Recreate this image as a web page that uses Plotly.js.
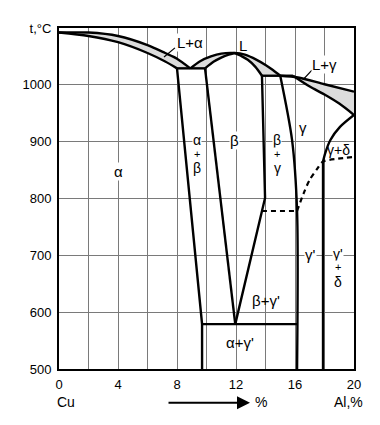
<!DOCTYPE html>
<html><head><meta charset="utf-8">
<script src="https://cdn.plot.ly/plotly-3.0.1.min.js"></script>
<style>html,body{margin:0;padding:0;background:#fff}#chart{width:380px;height:425px}</style>
</head><body><div id="chart"></div>
<script>
// Cu–Al phase diagram: composition (% Al) and temperature (°C)
const alphaLiquidusX = [0, 2, 4, 6, 7.2, 8.0, 8.9];
const alphaLiquidusT = [1092, 1092, 1086, 1070, 1056, 1046, 1029];
const alphaSolidusX = [0, 2, 4, 6, 7.2, 8.0];
const alphaSolidusT = [1092, 1086, 1075, 1056, 1041, 1029];
const eutecticX = [8.0, 9.9];
const eutecticT = [1029, 1029];
const betaLiquidusX = [8.9, 9.6, 10.3, 11.0, 11.9, 12.6, 13.4, 14.0, 14.5, 15.0];
const betaLiquidusT = [1029, 1042, 1050, 1055, 1056, 1053, 1044, 1035, 1026, 1016];
const betaSolidusLeftX = [9.9, 10.5, 11.0, 11.5, 11.9];
const betaSolidusLeftT = [1029, 1041, 1048, 1053, 1056];
const betaSolidusRightX = [11.9, 12.4, 12.8, 13.3, 13.76];
const betaSolidusRightT = [1056, 1050, 1044, 1032, 1016];
const peritecticX = [13.76, 15.86];
const peritecticT = [1016, 1016];
const gammaLiquidusX = [15.0, 16.2, 18.0, 20];
const gammaLiquidusT = [1016, 1013, 1001, 988];
const gammaSolidusX = [15.86, 17.0, 18.0, 19.0, 20];
const gammaSolidusT = [1016, 997, 983, 967, 947];
const alphaSolvusX = [8.0, 9.7, 9.7];
const alphaSolvusT = [1029, 579, 500];
const betaLeftX = [9.9, 11.95];
const betaLeftT = [1029, 579];
const betaRightX = [13.76, 13.97, 11.95];
const betaRightT = [1016, 801, 579];
const gammaLeftX = [15.0, 15.8, 16.14, 16.14];
const gammaLeftT = [1016, 903, 778, 500];
const eutectoidX = [9.7, 16.14];
const eutectoidT = [579, 579];
const gammaSolvusX = [20, 19.05, 18.4, 18.05, 17.9];
const gammaSolvusT = [947, 926, 903, 880, 865];
const deltaBoundaryX = [17.9, 17.9];
const deltaBoundaryT = [865, 500];
const orderDashX = [13.76, 16.14];
const orderDashT = [778, 778];
const orderCurveX = [16.14, 16.6, 17.0, 17.5, 17.9, 18.9, 20];
const orderCurveT = [778, 810, 833, 852, 865, 870, 873];
// axes
const xGrid = [0, 2, 4, 6, 8, 10, 12, 14, 16, 18, 20];
const xTickText = ['0', '', '4', '', '8', '', '12', '', '16', '', '20'];
const tGrid = [500, 600, 700, 800, 900, 1000, 1100];
const tTickText = ['500', '600', '700', '800', '900', '1000', 't,°C'];

const rev = a => a.slice().reverse();
const FILL = '#dcdcdc';
function poly(x, y) {
  return {x: x, y: y, mode: 'lines', fill: 'toself', fillcolor: FILL,
          line: {width: 0, color: FILL}, hoverinfo: 'skip', showlegend: false};
}
function ln(x, y, shape, dash, w) {
  return {x: x, y: y, mode: 'lines', hoverinfo: 'skip', showlegend: false,
          line: {color: '#000', width: w || 2.4, shape: shape || 'linear', smoothing: 0.8, dash: dash || 'solid'}};
}
const traces = [
  poly(alphaLiquidusX.concat([8.0], rev(alphaSolidusX)), alphaLiquidusT.concat([1029], rev(alphaSolidusT))),
  poly(betaLiquidusX.slice(0, 5).concat(rev(betaSolidusLeftX)), betaLiquidusT.slice(0, 5).concat(rev(betaSolidusLeftT))),
  poly(betaLiquidusX.slice(4).concat(gammaLiquidusX.slice(1), rev(gammaSolidusX), rev(betaSolidusRightX)),
       betaLiquidusT.slice(4).concat(gammaLiquidusT.slice(1), rev(gammaSolidusT), rev(betaSolidusRightT))),
  ln(alphaLiquidusX, alphaLiquidusT, 'spline'),
  ln(alphaSolidusX, alphaSolidusT, 'spline'),
  ln(eutecticX, eutecticT),
  ln(betaLiquidusX, betaLiquidusT, 'spline'),
  ln(betaSolidusLeftX, betaSolidusLeftT, 'spline'),
  ln(betaSolidusRightX, betaSolidusRightT, 'spline'),
  ln(peritecticX, peritecticT),
  ln(gammaLiquidusX, gammaLiquidusT, 'spline'),
  ln(gammaSolidusX, gammaSolidusT, 'spline'),
  ln(alphaSolvusX, alphaSolvusT),
  ln(betaLeftX, betaLeftT),
  ln(betaRightX, betaRightT),
  ln(gammaLeftX, gammaLeftT, 'spline'),
  ln(eutectoidX, eutectoidT),
  ln(gammaSolvusX, gammaSolvusT, 'spline'),
  ln(deltaBoundaryX, deltaBoundaryT),
  ln(orderDashX, orderDashT, 'linear', '5px,4px', 2.2),
  ln(orderCurveX, orderCurveT, 'spline', '5px,4px', 2.2)
];

const FAM = 'Liberation Sans, Arial, sans-serif';
function lab(text, x, y, bg, size) {
  return {text: text, x: x, y: y, xref: 'x', yref: 'y', showarrow: false,
          font: {family: FAM, size: size || 15, color: '#000'},
          bgcolor: bg ? '#fff' : 'rgba(0,0,0,0)', borderpad: 0};
}
function bottom(text, x) {
  return {text: text, x: x, y: -0.097, xref: 'x', yref: 'paper', yanchor: 'middle', showarrow: false,
          font: {family: FAM, size: 14, color: '#000'}};
}
const annotations = [
  lab('L+α', 8.88, 1074, true),
  lab('L', 12.47, 1069, false),
  lab('L+γ', 17.97, 1035, true),
  lab('α', 4.0, 847, true),
  lab('α', 9.36, 903, true, 14), lab('+', 9.36, 879, true, 11), lab('β', 9.36, 853, true, 14),
  lab('β', 11.93, 902, true),
  lab('β', 14.78, 903, true, 14), lab('+', 14.78, 878, true, 11), lab('γ', 14.78, 853, true, 14),
  lab('γ', 16.54, 925, false),
  lab('γ+δ', 18.92, 886, false, 14),
  lab("γ'", 17.02, 702, true),
  lab("γ'", 18.92, 703, true, 14), lab('+', 18.92, 679, true, 11), lab('δ', 18.92, 653, true, 14),
  lab("β+γ'", 14.03, 621, false),
  lab("α+γ'", 12.27, 546, false),
  bottom('Cu', 0.47), bottom('%', 13.7), bottom('Al,%', 19.6),
  {text: '', x: 12.95, y: -0.099, xref: 'x', yref: 'paper', showarrow: true,
   ax: -83, ay: 0, arrowhead: 2, arrowsize: 1.3, arrowwidth: 2, arrowcolor: '#000'}
];
const shapes = [
  {type: 'line', xref: 'x', yref: 'y', x0: 7.86, y0: 1065, x1: 7.12, y1: 1049, line: {color: '#000', width: 1.2}},
  {type: 'line', xref: 'x', yref: 'y', x0: 17.15, y0: 1026, x1: 16.54, y1: 1009, line: {color: '#000', width: 1.2}}
];
const axisCommon = {showgrid: true, gridcolor: '#7a7a7a', gridwidth: 1, showline: true, linecolor: '#000',
  linewidth: 2, mirror: true, ticks: '', zeroline: false, fixedrange: true,
  tickfont: {family: FAM, size: 13, color: '#000'}};
const layout = {
  width: 380, height: 425,
  margin: {l: 59, r: 26, t: 28, b: 56, pad: 0},
  paper_bgcolor: '#fff', plot_bgcolor: '#fff', showlegend: false,
  font: {family: FAM, size: 13, color: '#000'},
  xaxis: Object.assign({range: [0, 20], tickvals: xGrid, ticktext: xTickText, ticklabelstandoff: 2}, axisCommon),
  yaxis: Object.assign({range: [500, 1100], tickvals: tGrid, ticktext: tTickText, ticklabelstandoff: 3}, axisCommon),
  annotations: annotations, shapes: shapes
};
Plotly.newPlot('chart', traces, layout, {staticPlot: true, displayModeBar: false});
</script></body></html>
